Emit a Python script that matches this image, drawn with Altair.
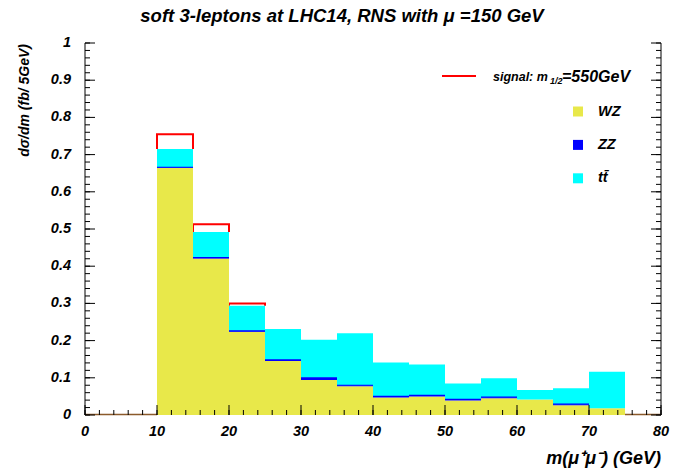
import altair as alt
import pandas as pd
import numpy as np

# ---- data ----
bin_lo = [10, 15, 20, 25, 30, 35, 40, 45, 50, 55, 60, 65, 70]
bin_width = 5
wz = [0.664, 0.421, 0.224, 0.145, 0.094, 0.077, 0.047, 0.050, 0.039, 0.045, 0.042, 0.026, 0.018]
zz = [0.002, 0.002, 0.002, 0.003, 0.006, 0.003, 0.003, 0.003, 0.003, 0.003, 0.000, 0.003, 0.000]
ttbar = [0.049, 0.069, 0.068, 0.083, 0.102, 0.140, 0.091, 0.083, 0.043, 0.051, 0.025, 0.043, 0.098]
signal = [0.040, 0.021, 0.006, 0, 0, 0, 0, 0, 0, 0, 0, 0, 0]

x_major = [0, 10, 20, 30, 40, 50, 60, 70, 80]
x_minor = list(range(0, 81, 2))
y_major = [0, 0.1, 0.2, 0.3, 0.4, 0.5, 0.6, 0.7, 0.8, 0.9, 1.0]
y_minor = [round(v, 2) for v in np.arange(0, 1.0001, 0.02)]

legend_labels = ["WZ", "ZZ", "t\u0074\u0304"]
legend_colors = ["#E8E84A", "#0000FF", "#00FFFF"]

W, H = 576, 372
FONT = "Liberation Sans"

# ---- build tables ----
rows = []
for i, lo in enumerate(bin_lo):
    base = 0.0
    for comp, vals in (("WZ", wz), ("ZZ", zz), ("tt", ttbar)):
        v = vals[i]
        rows.append(dict(lo=lo, hi=lo + bin_width, comp=comp, y0=base, y1=base + v))
        base += v
stack = pd.DataFrame(rows)

sig_rows = []
for i, lo in enumerate(bin_lo):
    if signal[i] > 0:
        b = wz[i] + zz[i] + ttbar[i]
        t = b + signal[i]
        hi = lo + bin_width
        for k, (xx, yy) in enumerate([(lo, b), (lo, t), (hi, t), (hi, b)]):
            sig_rows.append(dict(bin=i, ord=k, x=xx, y=yy))
sig = pd.DataFrame(sig_rows)

xs = alt.Scale(domain=[0, 80], nice=False, zero=False)
ys = alt.Scale(domain=[0, 1], nice=False)
cscale = alt.Scale(domain=["WZ", "ZZ", "tt"], range=legend_colors)

def X(f):
    return alt.X(f, scale=xs, axis=None)

def Y(f):
    return alt.Y(f, scale=ys, axis=None)

sig_line = alt.Chart(sig).mark_line(color="#FF0000", strokeWidth=2).encode(
    x=X("x:Q"), y=Y("y:Q"), detail="bin:N", order="ord:Q")

bars = alt.Chart(stack).mark_rect(strokeWidth=0).encode(
    x=X("lo:Q"), x2="hi:Q", y=Y("y1:Q"), y2="y0:Q",
    color=alt.Color("comp:N", scale=cscale, legend=None),
)

zz_lines = alt.Chart(stack[(stack.comp == "ZZ") & (stack.y1 > stack.y0)]).mark_rule(
    color="#0000FF", strokeWidth=1.2).encode(x=X("lo:Q"), x2="hi:Q", y=Y("y1:Q"))

baseline = alt.Chart(pd.DataFrame({"x0": [0, 75], "x1": [10, 80]})).mark_rule(
    color="#8B5A2B", strokeWidth=1.5).encode(x=X("x0:Q"), x2="x1:Q", y=alt.value(H - 0.5))

one = pd.DataFrame({"a": [0]})
frame = [
    alt.Chart(one).mark_rule(color="black", strokeWidth=1).encode(x=alt.value(0), y=alt.value(0), y2=alt.value(H)),
    alt.Chart(one).mark_rule(color="black", strokeWidth=1).encode(x=alt.value(W), y=alt.value(0), y2=alt.value(H)),
]

ymaj = pd.DataFrame({"v": y_major, "lab": [f"{v:g}" for v in y_major]})
ymin = pd.DataFrame({"v": y_minor})
xmaj = pd.DataFrame({"v": x_major, "lab": [f"{v:g}" for v in x_major]})
xmin = pd.DataFrame({"v": x_minor})

def yt(df, x1, x2):
    return alt.Chart(df).mark_rule(color="black", strokeWidth=1).encode(
        y=Y("v:Q"), x=alt.value(x1), x2=alt.value(x2))

def xt(df, ln):
    return alt.Chart(df).mark_rule(color="black", strokeWidth=1).encode(
        x=X("v:Q"), y=alt.value(H), y2=alt.value(H - ln))

ticks = [
    yt(ymaj, 0, 10), yt(ymin, 0, 5), yt(ymaj, W, W - 10), yt(ymin, W, W - 5),
    xt(xmaj, 10), xt(xmin, 5),
]

labstyle = dict(font=FONT, fontSize=14.5, fontStyle="italic", fontWeight="bold", color="black")
ylabels = alt.Chart(ymaj).mark_text(align="right", baseline="middle", **labstyle).encode(
    y=Y("v:Q"), x=alt.value(-14), text="lab:N")
xlabels = alt.Chart(xmaj).mark_text(align="center", baseline="middle", **labstyle).encode(
    x=X("v:Q"), y=alt.value(H + 17), text="lab:N")

def txt(s, x, y, size, align="left", angle=0, font=FONT, style="italic", weight="bold"):
    return alt.Chart(one).mark_text(
        text=s, font=font, fontSize=size, fontStyle=style, fontWeight=weight,
        align=align, baseline="middle", angle=angle, color="black",
    ).encode(x=alt.value(x), y=alt.value(y))

texts = [
    txt("soft 3-leptons at LHC14, RNS with \u03bc =150 GeV", 257, -27, 18.5, align="center"),
    txt("d\u03c3/dm  (fb/ 5GeV)", -60, 1, 14, align="right", angle=270),
    txt("m(\u03bc\u207a\u03bc\u207b)  (GeV)", W, 416, 18, align="right"),
    txt("signal: m", 408, 33.5, 12.5),
    txt("1/2", 465, 38, 9),
    txt("=550GeV", 477, 33.5, 16),
]

leg = [alt.Chart(one).mark_rule(color="#FF0000", strokeWidth=2).encode(
    x=alt.value(357), x2=alt.value(391), y=alt.value(33))]
for k, (lab, col) in enumerate(zip(legend_labels, legend_colors)):
    yc = 68.5 + k * 33.4
    leg.append(alt.Chart(one).mark_rect(color=col).encode(
        x=alt.value(488), x2=alt.value(498), y=alt.value(yc - 5), y2=alt.value(yc + 5)))
    leg.append(txt(lab, 513, yc, 14.5))

chart = alt.layer(
    sig_line, bars, zz_lines, baseline, *frame, *ticks, ylabels, xlabels, *texts, *leg
).properties(
    width=W, height=H,
    padding={"left": 85, "top": 43, "right": 14, "bottom": 59},
    autosize=alt.AutoSizeParams(type="none"),
    background="white",
).configure_view(stroke=None)

chart.save("out.html", embed_options={"renderer": "svg", "actions": False})
